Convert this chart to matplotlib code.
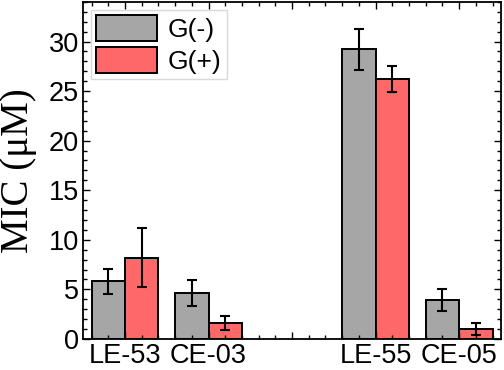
import matplotlib
matplotlib.use("Agg")
import matplotlib.pyplot as plt
from matplotlib.ticker import MultipleLocator, FixedLocator, FixedFormatter

categories = ["LE-53", "CE-03", "LE-55", "CE-05"]
positions = [1, 2, 4, 5]
g_neg = [5.8, 4.6, 29.2, 3.9]
g_neg_err = [1.3, 1.3, 2.1, 1.1]
g_pos = [8.2, 1.6, 26.2, 1.0]
g_pos_err = [3.0, 0.7, 1.3, 0.6]
series_labels = ["G(-)", "G(+)"]

plt.rcParams['font.family'] = ['Liberation Sans', 'DejaVu Sans']

fig = plt.figure(figsize=(5.04, 3.70), dpi=100)
ax = fig.add_axes([0.165, 0.084, 0.829, 0.911])

w = 0.4
gray = "#a6a6a6"
red = "#ff6868"
ekw = dict(elinewidth=1.5, capthick=1.5, ecolor="black")
ax.bar([p - w/2 for p in positions], g_neg, width=w, color=gray, edgecolor="black",
       linewidth=1.4, yerr=g_neg_err, capsize=3.5, error_kw=ekw, label=series_labels[0])
ax.bar([p + w/2 for p in positions], g_pos, width=w, color=red, edgecolor="black",
       linewidth=1.4, yerr=g_pos_err, capsize=3.5, error_kw=ekw, label=series_labels[1])

ax.set_xlim(0.5, 5.5)
ax.set_ylim(0, 34)
ax.xaxis.set_major_locator(FixedLocator([1, 2, 3, 4, 5]))
ax.xaxis.set_major_formatter(FixedFormatter(["LE-53", "CE-03", "", "LE-55", "CE-05"]))
ax.xaxis.set_minor_locator(MultipleLocator(0.2))
ax.yaxis.set_major_locator(MultipleLocator(5))
ax.yaxis.set_minor_locator(MultipleLocator(1))
ax.tick_params(which='both', direction='in', top=True, right=True, labelsize=19.5, width=1)
ax.tick_params(which='major', length=5, pad=3)
ax.tick_params(which='minor', length=3)
for s in ax.spines.values():
    s.set_linewidth(1.3)

ax.set_ylabel("MIC (\u03bcM)", fontsize=28, family=['Liberation Serif', 'DejaVu Serif'])
ax.yaxis.set_label_coords(-0.111, 0.5)

leg = ax.legend(loc='upper left', fontsize=19, handlelength=2.3, handleheight=1.15,
                labelspacing=0.18, handletextpad=0.4, borderpad=0.2, borderaxespad=0.3,
                frameon=True, fancybox=False, edgecolor="#d0d0d0")
leg.get_frame().set_linewidth(1.0)

fig.savefig("out.png", dpi=100)
